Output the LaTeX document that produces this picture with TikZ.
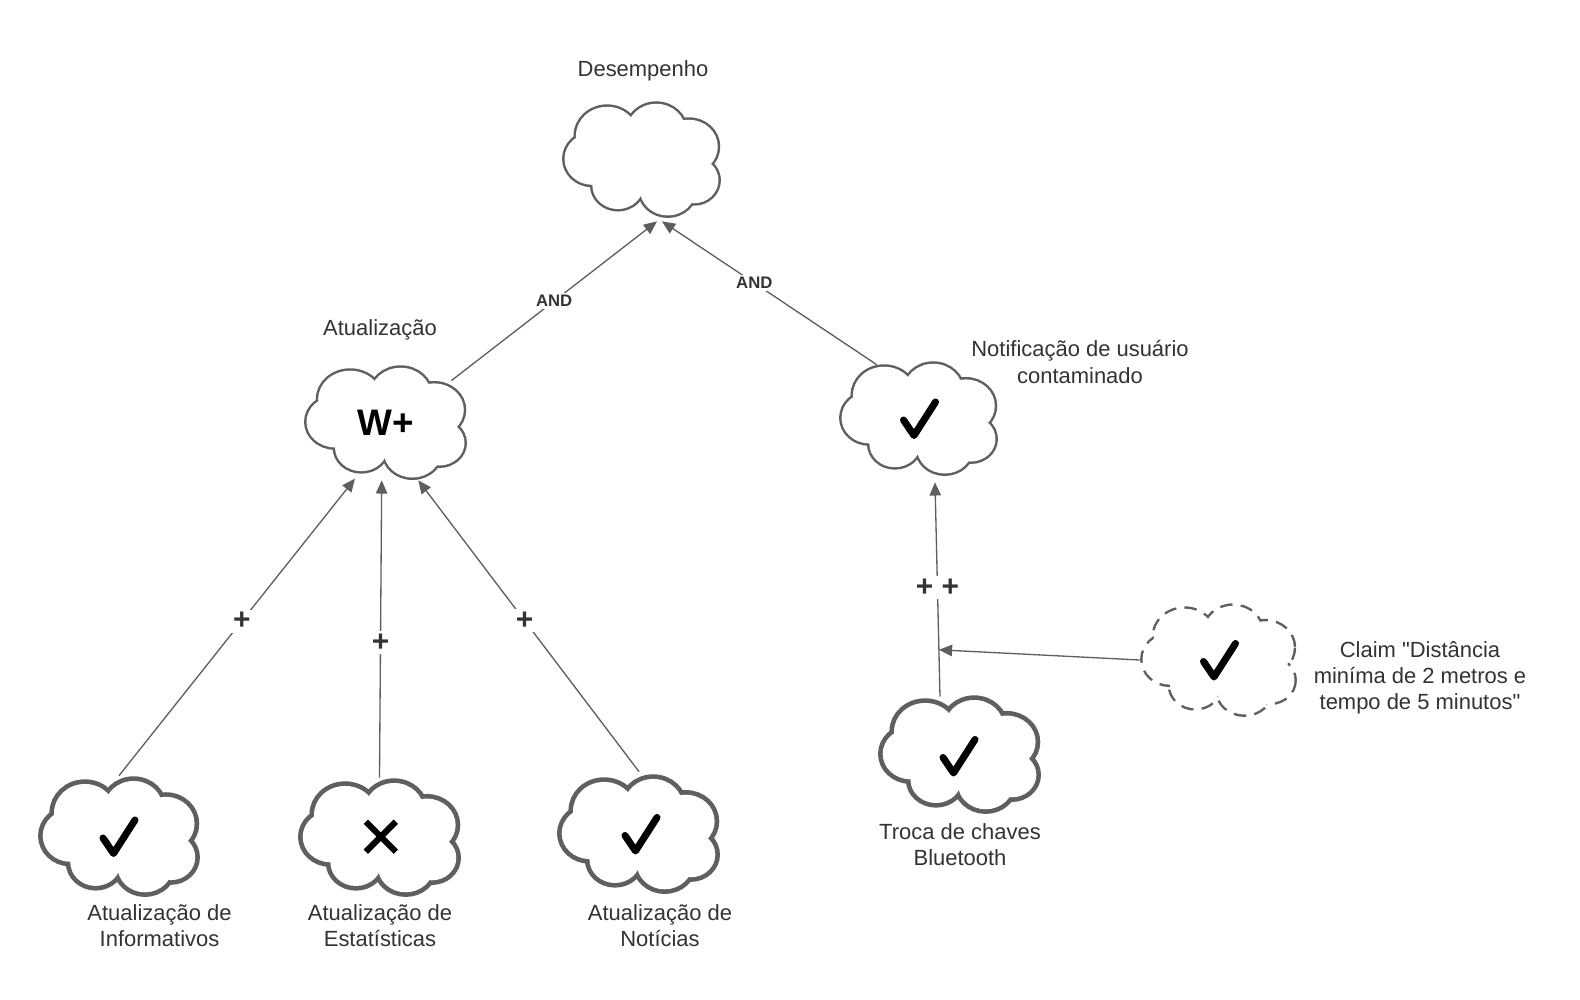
\documentclass[tikz,border=0pt]{standalone}
\usepackage{fontspec}
\setmainfont{Liberation Sans}
\usetikzlibrary{arrows.meta,calc}

\definecolor{cloudgray}{HTML}{5F5F5F}
\definecolor{linegray}{HTML}{5E5E5E}
\definecolor{textgray}{HTML}{333333}

\tikzset{
  % outline width is doubled: the inner half is covered by the white fill
  outline/.style={line width=2.8pt},
  thinline/.style={outline/.style={line width=2.8pt}},
  thickline/.style={outline/.style={line width=5.3pt}},
  dashline/.style={outline/.style={line width=2.8pt, dash pattern=on 6.8pt off 4.5pt}},
  pics/cloud/.style={code={
    \path[draw=cloudgray, outline]
      (-35,-25.7) circle[radius=31.7]
      (15,-30.7) circle[radius=30]
      (48.3,-14) circle[radius=29.3]
      (53.3,22.7) circle[radius=25]
      (26.7,32.7) circle[radius=28.3]
      (-24,28) circle[radius=26]
      (-50,-0.7) circle[radius=28.3]
      (0,0) ellipse[x radius=48, y radius=34];
    \path[fill=white]
      (-35,-25.7) circle[radius=31.7]
      (15,-30.7) circle[radius=30]
      (48.3,-14) circle[radius=29.3]
      (53.3,22.7) circle[radius=25]
      (26.7,32.7) circle[radius=28.3]
      (-24,28) circle[radius=26]
      (-50,-0.7) circle[radius=28.3]
      (0,0) ellipse[x radius=48, y radius=34];
  }},
  pics/tick/.style={code={
    \draw[black, line width=4pt, line cap=round, line join=round]
      (-15,1.5) -- (-4.5,17) -- (17,-16.5);
  }},
  pics/cross/.style={code={
    \draw[black, line width=3.5pt] (-15,-15) -- (15,15) (-15,15) -- (15,-15);
  }},
  cloudbox/.style 2 args={draw=none, inner sep=0pt,
    minimum width=#1*0.02cm, minimum height=#2*0.02cm},
  % multi-line labels: the base anchor sits on the last line
  label/.style={text=textgray, inner sep=0pt, align=center, anchor=base,
    font=\fontsize{12.5}{14.8}\selectfont},
  edge/.style={draw=linegray, line width=0.75pt,
    -{Triangle[length=7.5pt, width=6.5pt]}},
  andlab/.style={fill=white, text=textgray, inner sep=1.5pt,
    font=\bfseries\fontsize{9.5}{11}\selectfont},
  pluslab/.style={fill=white, text=textgray, inner sep=1.5pt,
    font=\bfseries\fontsize{17}{17}\selectfont},
}

\begin{document}
\begin{tikzpicture}[x=0.02cm, y=-0.02cm]
  \fill[white] (0,0) rectangle (1580,1000);
  \useasboundingbox (0,0) rectangle (1580,1000);

  % cloud outlines
  \pic[thinline, xscale=0.983, yscale=0.918] at (641.5,159.5) {cloud};
  \pic[thinline, xscale=1.009, yscale=0.902] at (385.5,422.5) {cloud};
  \pic[thinline, xscale=0.983, yscale=0.902] at (918.5,418.5) {cloud};
  \pic[thickline, xscale=0.974, yscale=0.915] at (119,836.5) {cloud};
  \pic[thickline, xscale=0.981, yscale=0.898] at (379.5,837.5) {cloud};
  \pic[thickline, xscale=0.981, yscale=0.907] at (638.5,834) {cloud};
  \pic[thickline, xscale=0.981, yscale=0.898] at (959.5,754.5) {cloud};
  \pic[dashline, xscale=0.970, yscale=0.893] at (1218.5,660) {cloud};

  % named goal nodes
  \node[cloudbox={159}{117}] (des) at (641.5,159.5) {};
  \node[cloudbox={163}{115}] (atu) at (385.5,422.5) {};
  \node[cloudbox={159}{115}] (notif) at (918.5,418.5) {};
  \node[cloudbox={162}{121}] (inf) at (119,836.5) {};
  \node[cloudbox={163}{119}] (est) at (379.5,837.5) {};
  \node[cloudbox={163}{120}] (noti) at (638.5,834) {};
  \node[cloudbox={163}{119}] (troca) at (959.5,754.5) {};
  \node[cloudbox={157}{114}] (claim) at (1218.5,660) {};

  % marks inside the clouds
  \node[inner sep=0pt, font=\bfseries\fontsize{21}{21}\selectfont] (wplus) at (386,422.5) {W+};
  \pic at (918.5,418.5) {tick};
  \pic at (118,836.5) {tick};
  \pic at (380.8,836.7) {cross};
  \pic at (640,834) {tick};
  \pic at (958,756) {tick};
  \pic at (1218.5,660) {tick};

  % labels
  \node[label] (l-des) at (643,76.6) {Desempenho};
  \node[label] (l-atu) at (380,335.6) {Atualização};
  \node[label] (l-notif) at (1080,383) {Notificação de usuário\\contaminado};
  \node[label] (l-inf) at (159.5,946) {Atualização de\\Informativos};
  \node[label] (l-est) at (380,946) {Atualização de\\Estatísticas};
  \node[label] (l-noti) at (660,946) {Atualização de\\Notícias};
  \node[label] (l-troca) at (960,865.6) {Troca de chaves\\Bluetooth};
  \node[label] (l-claim) at (1420,709.4) {Claim \textquotedbl Distância\\miníma de 2 metros e\\tempo de 5 minutos\textquotedbl};

  % contributions towards Atualização
  \draw[edge] (inf.north) -- node[pluslab, pos=0.52] (p1) {+} ($(atu.south)+(-30.5,-1.7)$);
  \draw[edge] (est.north) -- node[pluslab, pos=0.454] (p2) {+} ($(atu.south)+(-3.8,0)$);
  \draw[edge] ($(noti.north)+(0.5,-2)$) -- node[pluslab, pos=0.518] (p3) {+} ($(atu.south)+(32.8,0)$);

  % AND decomposition of Desempenho
  \draw[edge] ($(atu.north east)+(-16,16)$) -- node[andlab, pos=0.5] (a1) {AND} ($(des.south)+(15.5,3)$);
  \draw[edge] ($(notif.north west)+(38,4)$) -- node[andlab, pos=0.57] (a2) {AND} ($(des.south)+(20.5,3)$);

  % Troca de chaves towards Notificação
  \coordinate (tro-top) at ($(troca.north)+(-19.5,2)$);
  \coordinate (not-bot) at ($(notif.south)+(16.5,6)$);
  \draw[edge] (tro-top) -- node[pluslab, pos=0.51] (pp) {+ +} (not-bot);

  % claim attached to the link
  \coordinate (jn) at ($(tro-top)!0.2186!(not-bot)$);
  \draw[edge] (claim.west) -- (jn);
\end{tikzpicture}
\end{document}
